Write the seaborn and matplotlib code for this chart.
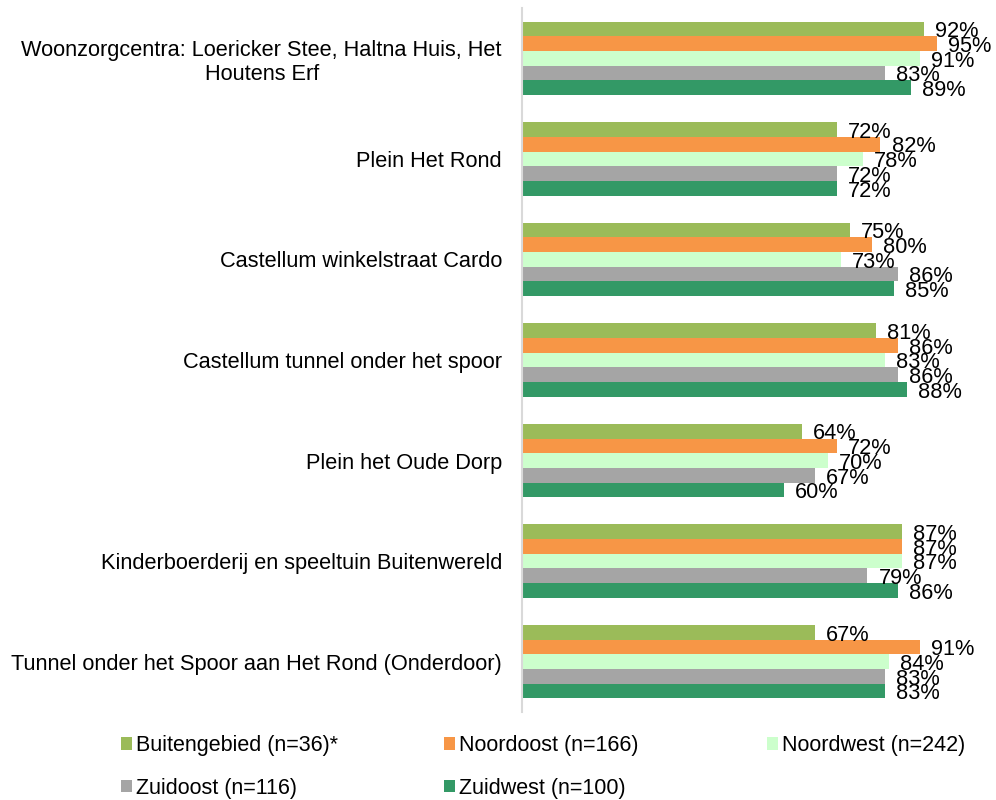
import matplotlib
matplotlib.use("Agg")
import matplotlib.pyplot as plt
import seaborn as sns
import pandas as pd

# Locations (top to bottom as in the chart)
locations = [
    "Woonzorgcentra: Loericker Stee, Haltna Huis, Het\nHoutens Erf",
    "Plein Het Rond",
    "Castellum winkelstraat Cardo",
    "Castellum tunnel onder het spoor",
    "Plein het Oude Dorp",
    "Kinderboerderij en speeltuin Buitenwereld",
    "Tunnel onder het Spoor aan Het Rond (Onderdoor)",
]

regions = ["Buitengebied (n=36)*", "Noordoost (n=166)", "Noordwest (n=242)",
           "Zuidoost (n=116)", "Zuidwest (n=100)"]

buitengebied = [92, 72, 75, 81, 64, 87, 67]
noordoost = [95, 82, 80, 86, 72, 87, 91]
noordwest = [91, 78, 73, 83, 70, 87, 84]
zuidoost = [83, 72, 86, 86, 67, 79, 83]
zuidwest = [89, 72, 85, 88, 60, 86, 83]

colors = ["#9BBB59", "#F79646", "#CCFFCC", "#A5A5A5", "#339966"]

series = [buitengebied, noordoost, noordwest, zuidoost, zuidwest]
rows = []
for reg, vals in zip(regions, series):
    for loc, v in zip(locations, vals):
        rows.append({"locatie": loc, "regio": reg, "pct": v / 100})
df = pd.DataFrame(rows)

sns.set_style("white")
plt.rcParams["font.family"] = ["Liberation Sans", "DejaVu Sans"]
plt.rcParams["text.color"] = "black"

fig = plt.figure(figsize=(9.96, 8), dpi=100)
ax = fig.add_axes([0.524, 0.11, 0.439, 0.88])

sns.barplot(data=df, y="locatie", x="pct", hue="regio", order=locations,
            hue_order=regions, palette=colors, saturation=1, orient="h",
            width=0.73, linewidth=0, errorbar=None, ax=ax, legend=True)

# data labels, a little below the bar centre like the original
for cont in ax.containers:
    for bar, v in zip(cont.patches, cont.datavalues):
        ax.annotate(f"{v * 100:.0f}%", (bar.get_width(), bar.get_y() + bar.get_height() / 2),
                    xytext=(8, -2), textcoords="offset points", ha="left", va="center",
                    fontsize=15.7, color="black", annotation_clip=False)

ax.set_xlim(0, 1)
ax.set_ylim(6.5, -0.5)
ax.set_xlabel("")
ax.set_ylabel("")
ax.set_xticks([])
ax.tick_params(axis="y", length=0, pad=14.4, labelsize=15.7, labelcolor="black")
for lab in ax.get_yticklabels():
    lab.set_multialignment("center")

for s in ["top", "right", "bottom"]:
    ax.spines[s].set_visible(False)
ax.spines["left"].set_color("#D9D9D9")
ax.spines["left"].set_linewidth(1.5)

handles, labels = ax.get_legend_handles_labels()
ax.get_legend().remove()

# legend laid out row by row in three columns
columns = [[0, 3], [1, 4], [2]]
col_x = [121, 444, 767]
for idx, x in zip(columns, col_x):
    fig.legend([handles[i] for i in idx], [labels[i] for i in idx],
               loc="upper left", bbox_to_anchor=(x / 996, 1 - 735 / 800),
               frameon=False, fontsize=15.5, handlelength=0.51, handleheight=0.51,
               handletextpad=0.2, labelspacing=1.0, borderpad=0, borderaxespad=0)

fig.savefig("out.png", dpi=100)
